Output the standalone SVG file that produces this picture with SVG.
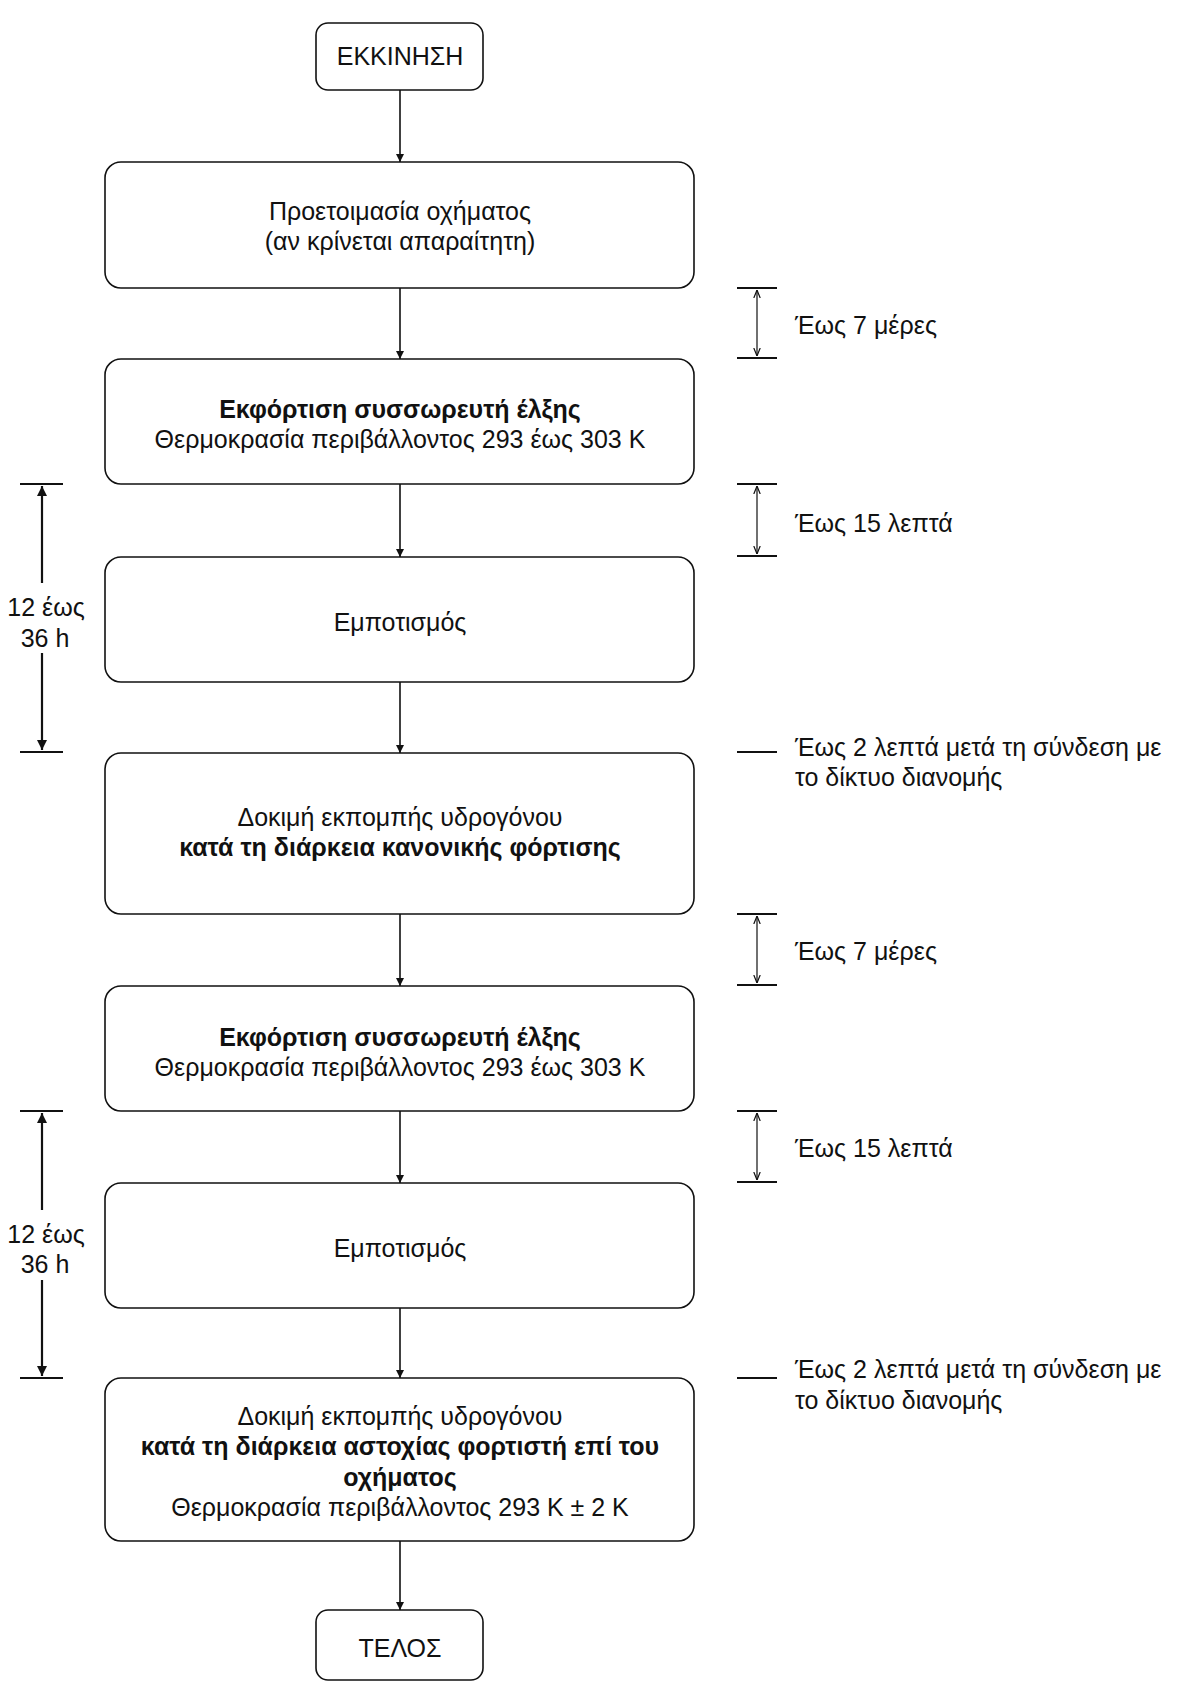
<svg xmlns="http://www.w3.org/2000/svg" width="1197" height="1701" viewBox="0 0 1197 1701">
<style>
text{font-family:"Liberation Sans",Arial,sans-serif;font-size:25px;fill:#111}
.c{text-anchor:middle}
.b{font-weight:bold}
.box{fill:#fff;stroke:#111;stroke-width:1.6}
.ln{stroke:#111;stroke-width:1.6;fill:none}
.tk{stroke:#111;stroke-width:2;fill:none}
.dm{stroke:#111;stroke-width:1.2;fill:none}
.dl{stroke:#111;stroke-width:2.2;fill:none}
</style>
<defs>
<marker id="ah" viewBox="0 0 10 10" refX="10" refY="5" markerWidth="9" markerHeight="8" markerUnits="userSpaceOnUse" orient="auto"><path d="M0,0 L10,5 L0,10 z" fill="#111"/></marker>
<marker id="sh" viewBox="0 0 10 10" refX="10" refY="5" markerWidth="8" markerHeight="8" markerUnits="userSpaceOnUse" orient="auto-start-reverse"><path d="M0,1 L10,5 L0,9" fill="none" stroke="#111" stroke-width="1.5"/></marker>
<marker id="lh" viewBox="0 0 10 10" refX="10" refY="5" markerWidth="10" markerHeight="10" markerUnits="userSpaceOnUse" orient="auto-start-reverse"><path d="M0,0 L10,5 L0,10 z" fill="#111"/></marker>
</defs>

<g id="connectors">
<line class="ln" x1="400" y1="90" x2="400" y2="162" marker-end="url(#ah)"/>
<line class="ln" x1="400" y1="288" x2="400" y2="359" marker-end="url(#ah)"/>
<line class="ln" x1="400" y1="484" x2="400" y2="557" marker-end="url(#ah)"/>
<line class="ln" x1="400" y1="682" x2="400" y2="753" marker-end="url(#ah)"/>
<line class="ln" x1="400" y1="914" x2="400" y2="986" marker-end="url(#ah)"/>
<line class="ln" x1="400" y1="1111" x2="400" y2="1183" marker-end="url(#ah)"/>
<line class="ln" x1="400" y1="1308" x2="400" y2="1378" marker-end="url(#ah)"/>
<line class="ln" x1="400" y1="1541" x2="400" y2="1610" marker-end="url(#ah)"/>
</g>

<g id="start">
<rect class="box" x="316" y="23" width="167" height="67" rx="12"/>
<text class="c" x="400" y="65">ΕΚΚΙΝΗΣΗ</text>
</g>
<g id="prep">
<rect class="box" x="105" y="162" width="589" height="126" rx="16"/>
<text class="c" x="400" y="220">Προετοιμασία οχήματος</text>
<text class="c" x="400" y="250">(αν κρίνεται απαραίτητη)</text>
</g>
<g id="discharge1">
<rect class="box" x="105" y="359" width="589" height="125" rx="16"/>
<text class="c b" x="400" y="418">Εκφόρτιση συσσωρευτή έλξης</text>
<text class="c" x="400" y="448">Θερμοκρασία περιβάλλοντος 293 έως 303 K</text>
</g>
<g id="soak1">
<rect class="box" x="105" y="557" width="589" height="125" rx="16"/>
<text class="c" x="400" y="631">Εμποτισμός</text>
</g>
<g id="test1">
<rect class="box" x="105" y="753" width="589" height="161" rx="16"/>
<text class="c" x="400" y="826">Δοκιμή εκπομπής υδρογόνου</text>
<text class="c b" x="400" y="856">κατά τη διάρκεια κανονικής φόρτισης</text>
</g>
<g id="discharge2">
<rect class="box" x="105" y="986" width="589" height="125" rx="16"/>
<text class="c b" x="400" y="1046">Εκφόρτιση συσσωρευτή έλξης</text>
<text class="c" x="400" y="1076">Θερμοκρασία περιβάλλοντος 293 έως 303 K</text>
</g>
<g id="soak2">
<rect class="box" x="105" y="1183" width="589" height="125" rx="16"/>
<text class="c" x="400" y="1257">Εμποτισμός</text>
</g>
<g id="test2">
<rect class="box" x="105" y="1378" width="589" height="163" rx="16"/>
<text class="c" x="400" y="1425">Δοκιμή εκπομπής υδρογόνου</text>
<text class="c b" x="400" y="1455">κατά τη διάρκεια αστοχίας φορτιστή επί του</text>
<text class="c b" x="400" y="1486">οχήματος</text>
<text class="c" x="400" y="1516">Θερμοκρασία περιβάλλοντος 293 K ± 2 K</text>
</g>
<g id="end">
<rect class="box" x="316" y="1610" width="167" height="70" rx="12"/>
<text class="c" x="400" y="1657">ΤΕΛΟΣ</text>
</g>

<g id="timing-right">
<line class="tk" x1="737" y1="288" x2="777" y2="288"/>
<line class="tk" x1="737" y1="358" x2="777" y2="358"/>
<line class="dm" x1="757" y1="290" x2="757" y2="356" marker-start="url(#sh)" marker-end="url(#sh)"/>
<text x="795" y="334">Έως 7 μέρες</text>

<line class="tk" x1="737" y1="484" x2="777" y2="484"/>
<line class="tk" x1="737" y1="556" x2="777" y2="556"/>
<line class="dm" x1="757" y1="486" x2="757" y2="554" marker-start="url(#sh)" marker-end="url(#sh)"/>
<text x="795" y="532">Έως 15 λεπτά</text>

<line class="tk" x1="737" y1="752" x2="777" y2="752"/>
<text x="795" y="756">Έως 2 λεπτά μετά τη σύνδεση με</text>
<text x="795" y="786">το δίκτυο διανομής</text>

<line class="tk" x1="737" y1="914" x2="777" y2="914"/>
<line class="tk" x1="737" y1="985" x2="777" y2="985"/>
<line class="dm" x1="757" y1="916" x2="757" y2="983" marker-start="url(#sh)" marker-end="url(#sh)"/>
<text x="795" y="960">Έως 7 μέρες</text>

<line class="tk" x1="737" y1="1111" x2="777" y2="1111"/>
<line class="tk" x1="737" y1="1182" x2="777" y2="1182"/>
<line class="dm" x1="757" y1="1113" x2="757" y2="1180" marker-start="url(#sh)" marker-end="url(#sh)"/>
<text x="795" y="1157">Έως 15 λεπτά</text>

<line class="tk" x1="737" y1="1378" x2="777" y2="1378"/>
<text x="795" y="1378">Έως 2 λεπτά μετά τη σύνδεση με</text>
<text x="795" y="1409">το δίκτυο διανομής</text>
</g>

<g id="timing-left">
<line class="tk" x1="20" y1="484" x2="63" y2="484"/>
<line class="tk" x1="20" y1="752" x2="63" y2="752"/>
<line class="dl" x1="42" y1="583" x2="42" y2="486" marker-end="url(#lh)"/>
<line class="dl" x1="42" y1="653" x2="42" y2="750" marker-end="url(#lh)"/>
<text class="c" x="46" y="616">12 έως</text>
<text class="c" x="45" y="647">36 h</text>

<line class="tk" x1="20" y1="1111" x2="63" y2="1111"/>
<line class="tk" x1="20" y1="1378" x2="63" y2="1378"/>
<line class="dl" x1="42" y1="1210" x2="42" y2="1113" marker-end="url(#lh)"/>
<line class="dl" x1="42" y1="1280" x2="42" y2="1376" marker-end="url(#lh)"/>
<text class="c" x="46" y="1243">12 έως</text>
<text class="c" x="45" y="1273">36 h</text>
</g>
</svg>
